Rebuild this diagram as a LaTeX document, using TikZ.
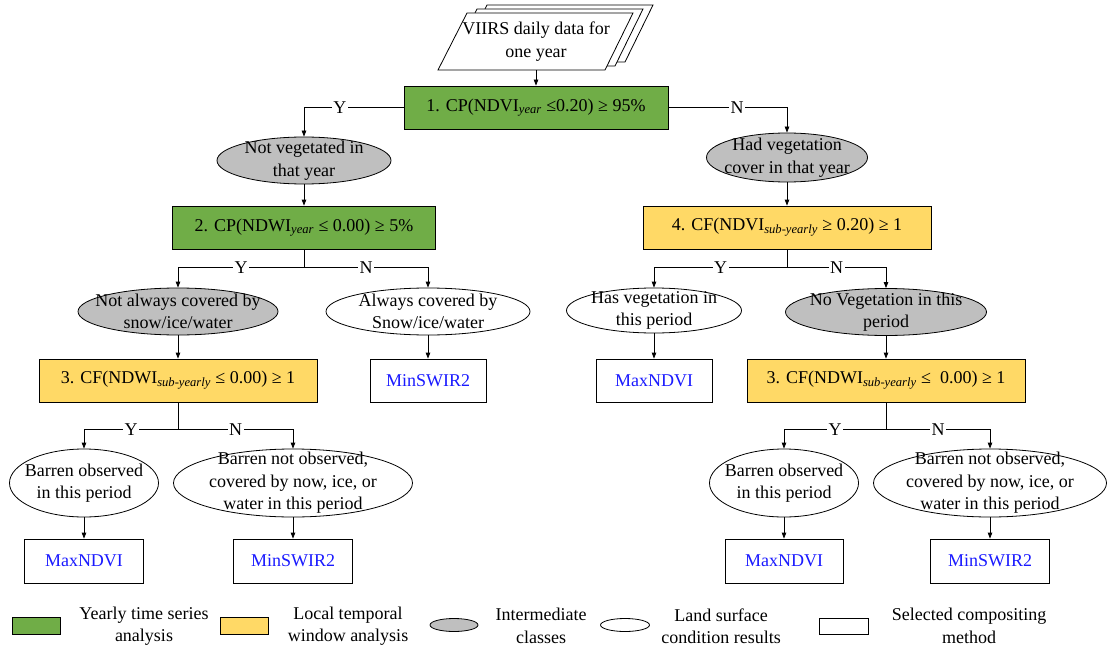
\documentclass[tikz,border=0pt]{standalone}
\usepackage{fontspec}
\setmainfont{Liberation Serif}
\usetikzlibrary{shapes.geometric,arrows.meta}
\definecolor{grn}{HTML}{70AD47}
\definecolor{ylw}{HTML}{FFD966}
\definecolor{gry}{HTML}{BFBFBF}
\definecolor{lnk}{HTML}{1A1AFF}
\newcommand\subx[1]{\textsubscript{\textit{#1}}}
\begin{document}
\begin{tikzpicture}[x=1pt,y=-1pt, font=\fontsize{18}{22.5}\selectfont,
  every node/.style={inner sep=0pt},
  box/.style={draw=black, line width=0.8pt, rectangle, minimum height=43pt},
  gbox/.style={box, fill=grn},
  ybox/.style={box, fill=ylw},
  wbox/.style={box, fill=white, text=lnk},
  ell/.style={draw=black, line width=0.8pt, ellipse},
  gell/.style={ell, fill=gry},
  well/.style={ell, fill=white},
  txt/.style={align=center},
  arr/.style={draw, line width=0.8pt, -{Triangle[length=6pt,width=4.5pt]}},
  ln/.style={draw, line width=0.8pt},
  yn/.style={fill=white, inner sep=1.5pt},
]
\useasboundingbox (0,0) rectangle (1107,647);

% data stack
\begin{scope}[shift={(536,41.5)}]
\foreach \dx/\dy in {20/-8, 10/-4, 0/0}
  \filldraw[fill=white, line width=0.8pt] (-69+\dx,-28.5+\dy) -- (97+\dx,-28.5+\dy) -- (69+\dx,28.5+\dy) -- (-98+\dx,28.5+\dy) -- cycle;
\end{scope}
\node[txt, minimum height=57pt] (data) at (536,41.5) {VIIRS daily data for\\one year};

% level 1
\node[gbox, minimum width=264pt] (b1) at (536,107.5) {1. CP(NDVI\subx{year} ≤0.20) ≥ 95\%};

\node[gell, minimum width=174pt, minimum height=47pt] (e1) at (304,160.5) {};
\node[txt] at (e1) {Not vegetated in\\that year};
\node[gell, minimum width=161pt, minimum height=49pt] (e2) at (787,157.5) {};
\node[txt] at (e2) {Had vegetation\\cover in that year};

\node[gbox, minimum width=263pt] (b2) at (304,227.5) {2. CP(NDWI\subx{year} ≤ 0.00) ≥ 5\%};
\node[ybox, minimum width=288pt] (b4) at (787,227.5) {4. CF(NDVI\subx{sub-yearly} ≥ 0.20) ≥ 1};

\node[gell, minimum width=200pt, minimum height=47pt] (e3) at (178,311.5) {};
\node[txt] at (e3) {Not always covered by\\snow/ice/water};
\node[well, minimum width=204pt, minimum height=47pt] (e4) at (428,311.5) {};
\node[txt] at (e4) {Always covered by\\Snow/ice/water};
\node[well, minimum width=175pt, minimum height=45pt] (e5) at (654,310.5) {};
\node[txt] at (e5) {Has vegetation in\\this period};
\node[gell, minimum width=201pt, minimum height=47pt] (e6) at (886,312) {};
\node[txt] at (e6) {No Vegetation in this\\period};

\node[ybox, minimum width=278pt] (b3l) at (178,380.5) {3. CF(NDWI\subx{sub-yearly} ≤ 0.00) ≥ 1};
\node[wbox, minimum width=116pt] (m1) at (428,380.5) {MinSWIR2};
\node[wbox, minimum width=116pt] (m2) at (654,380.5) {MaxNDVI};
\node[ybox, minimum width=278pt] (b3r) at (886,380.5) {3. CF(NDWI\subx{sub-yearly} ≤\ \ 0.00) ≥ 1};

\node[well, minimum width=149pt, minimum height=68pt] (e7) at (84,483) {};
\node[txt] at (e7) {Barren observed\\in this period};
\node[well, minimum width=239pt, minimum height=68pt] (e8) at (293,483) {};
\node[txt] at (e8) {Barren not observed,\\covered by now, ice, or\\water in this period};
\node[well, minimum width=149pt, minimum height=68pt] (e9) at (784,483) {};
\node[txt] at (e9) {Barren observed\\in this period};
\node[well, minimum width=233pt, minimum height=68pt] (e10) at (990,483) {};
\node[txt] at (e10) {Barren not observed,\\covered by now, ice, or\\water in this period};

\node[wbox, minimum width=119pt, minimum height=44pt] (m3) at (84,561) {MaxNDVI};
\node[wbox, minimum width=119pt, minimum height=44pt] (m4) at (293,561) {MinSWIR2};
\node[wbox, minimum width=118pt, minimum height=44pt] (m5) at (784,561) {MaxNDVI};
\node[wbox, minimum width=119pt, minimum height=44pt] (m6) at (990,561) {MinSWIR2};

% connectors
\draw[arr] (data.south) -- (b1.north);
\draw[arr] (b1.west) -| node[yn,pos=0.32]{Y} (e1.north);
\draw[arr] (b1.east) -| node[yn,pos=0.29]{N} (e2.north);
\draw[arr] (e1.south) -- (b2.north);
\draw[arr] (e2.south) -- (b4.north);

\path (b2.south) ++(0,18) coordinate (j2);
\draw[ln] (b2.south) -- (j2);
\draw[arr] (j2) -| node[yn,pos=0.25]{Y} (e3.north);
\draw[arr] (j2) -| node[yn,pos=0.25]{N} (e4.north);
\draw[arr] (e3.south) -- (b3l.north);
\draw[arr] (e4.south) -- (m1.north);

\path (b4.south) ++(0,18) coordinate (j4);
\draw[ln] (b4.south) -- (j4);
\draw[arr] (j4) -| node[yn,pos=0.25]{Y} (e5.north);
\draw[arr] (j4) -| node[yn,pos=0.25]{N} (e6.north);
\draw[arr] (e5.south) -- (m2.north);
\draw[arr] (e6.south) -- (b3r.north);

\path (b3l.south) ++(0,27) coordinate (j3l);
\draw[ln] (b3l.south) -- (j3l);
\draw[arr] (j3l) -| node[yn,pos=0.25]{Y} (e7.north);
\draw[arr] (j3l) -| node[yn,pos=0.25]{N} (e8.north);
\draw[arr] (e7.south) -- (m3.north);
\draw[arr] (e8.south) -- (m4.north);

\path (b3r.south) ++(0,27) coordinate (j3r);
\draw[ln] (b3r.south) -- (j3r);
\draw[arr] (j3r) -| node[yn,pos=0.25]{Y} (e9.north);
\draw[arr] (j3r) -| node[yn,pos=0.25]{N} (e10.north);
\draw[arr] (e9.south) -- (m5.north);
\draw[arr] (e10.south) -- (m6.north);

% legend
\node[gbox, minimum width=48pt, minimum height=17pt] (lg1) at (36,626) {};
\node[txt] (lt1) at (144,626) {Yearly time series\\analysis};
\node[ybox, minimum width=48pt, minimum height=17pt] (lg2) at (244,626) {};
\node[txt] (lt2) at (348,626) {Local temporal\\window analysis};
\node[gell, minimum width=48pt, minimum height=13pt] (lg3) at (454,625) {};
\node[txt] (lt3) at (541,626) {Intermediate\\classes};
\node[well, minimum width=49pt, minimum height=13pt] (lg4) at (625,625) {};
\node[txt] (lt4) at (721,626) {Land surface\\condition results};
\node[box, fill=white, minimum width=49pt, minimum height=16pt] (lg5) at (843.5,626) {};
\node[txt] (lt5) at (969,626) {Selected compositing\\method};
\end{tikzpicture}
\end{document}
